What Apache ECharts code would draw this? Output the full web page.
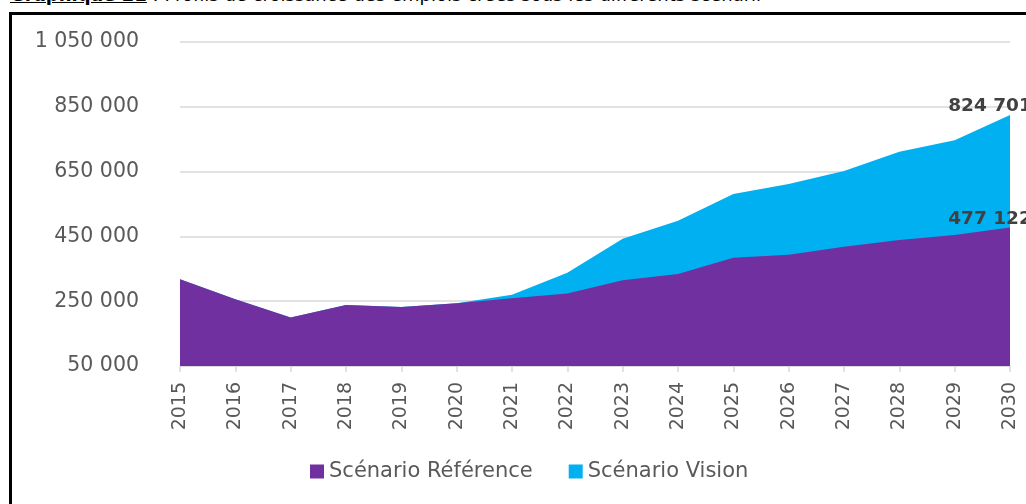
<!DOCTYPE html>
<html>
<head>
<meta charset="utf-8">
<script src="https://cdn.jsdelivr.net/npm/echarts@6/dist/echarts.min.js"></script>
<style>
  html, body { margin: 0; padding: 0; background: #fff; overflow: hidden; }
  #wrap { position: relative; width: 1026px; height: 504px; overflow: hidden; }
  #caption { position: absolute; left: 10px; top: -15px; font: 18px "DejaVu Sans", sans-serif; color: #000; white-space: nowrap; line-height: 20px; }
  #caption b { text-decoration: underline; }
  #frame { position: absolute; left: 9px; top: 12px; width: 1100px; height: 600px; border: 3px solid #000; }
  #main { position: absolute; left: 0; top: 0; width: 1026px; height: 504px; }
</style>
</head>
<body>
<div id="wrap">
  <div id="caption"><b>Graphique 21</b> : Profils de croissance des emplois créés sous les différents scénarii</div>
  <div id="frame"></div>
  <div id="main"></div>
</div>
<script>
// années
var years = ['2015','2016','2017','2018','2019','2020','2021','2022','2023','2024','2025','2026','2027','2028','2029','2030'];
// emplois créés, scénario référence
var reference = [318000, 256000, 200000, 238000, 232000, 243500, 259000, 274000, 315000, 334000, 384000, 393500, 418000, 439000, 454000, 477122];
// emplois créés, scénario vision
var vision = [318000, 256000, 200000, 238000, 232000, 244000, 270000, 338000, 443000, 498500, 581000, 612000, 652000, 711000, 747000, 824701];

var fmt = function (v) {
  return String(Math.round(v)).replace(/\B(?=(\d{3})+(?!\d))/g, ' ');
};

// seule la dernière valeur est étiquetée
var lastLabel = {
  show: true,
  position: 'top',
  distance: 0,
  offset: [-20, 1],
  color: '#404040',
  fontFamily: 'DejaVu Sans',
  fontWeight: 'bold',
  fontSize: 18.5,
  formatter: function (p) {
    return p.dataIndex === years.length - 1 ? fmt(p.value) : '';
  }
};

var chart = echarts.init(document.getElementById('main'), null, { renderer: 'canvas' });
chart.setOption({
  animation: false,
  textStyle: { fontFamily: 'DejaVu Sans' },
  grid: { left: 180, right: 16, top: 42, bottom: 138, outerBoundsMode: 'none' },
  legend: {
    data: ['Scénario Référence', 'Scénario Vision'],
    left: 305,
    top: 456,
    icon: 'rect',
    itemWidth: 14,
    itemHeight: 14,
    itemGap: 36,
    textStyle: { color: '#595959', fontSize: 21, fontFamily: 'DejaVu Sans' }
  },
  xAxis: {
    type: 'category',
    data: years,
    boundaryGap: false,
    axisLine: { lineStyle: { color: '#d9d9d9', width: 1.5 } },
    axisTick: { show: true, length: 6, lineStyle: { color: '#d9d9d9', width: 1.5 } },
    axisLabel: { rotate: 90, margin: 16, color: '#595959', fontSize: 19, fontFamily: 'DejaVu Sans' },
    splitLine: { show: false }
  },
  yAxis: {
    type: 'value',
    min: 50000,
    max: 1050000,
    interval: 200000,
    axisLine: { show: false },
    axisTick: { show: false },
    axisLabel: { margin: 41, color: '#595959', fontSize: 20.5, fontFamily: 'DejaVu Sans', formatter: fmt },
    splitLine: { lineStyle: { color: '#d9d9d9', width: 1.5 } }
  },
  series: [
    {
      name: 'Scénario Vision',
      type: 'line',
      data: vision,
      showSymbol: true,
      symbolSize: 0,
      lineStyle: { width: 0 },
      itemStyle: { color: '#00B0F0' },
      areaStyle: { color: '#00B0F0', opacity: 1 },
      label: lastLabel
    },
    {
      name: 'Scénario Référence',
      type: 'line',
      data: reference,
      showSymbol: true,
      symbolSize: 0,
      lineStyle: { width: 0 },
      itemStyle: { color: '#7030A0' },
      areaStyle: { color: '#7030A0', opacity: 1 },
      label: lastLabel
    }
  ]
});
</script>
</body>
</html>
